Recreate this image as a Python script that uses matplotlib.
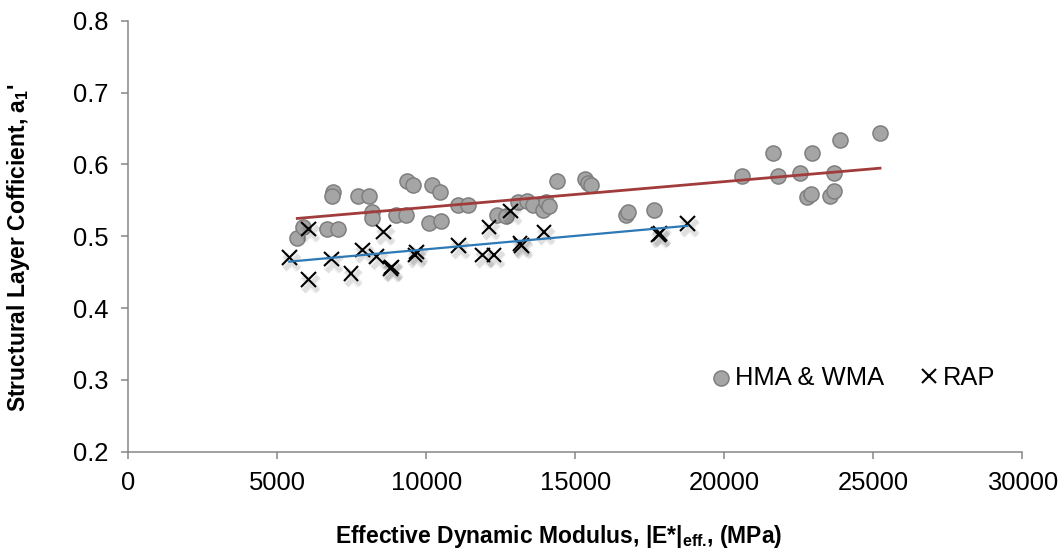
import numpy as np
import matplotlib
matplotlib.use("Agg")
import matplotlib.pyplot as plt
import matplotlib.patheffects as pe

plt.rcParams["font.family"] = ["Liberation Sans", "DejaVu Sans"]
plt.rcParams["mathtext.fontset"] = "custom"
plt.rcParams["mathtext.rm"] = "Liberation Sans"
plt.rcParams["mathtext.bf"] = "Liberation Sans:bold"
plt.rcParams["mathtext.default"] = "bf"

# HMA & WMA mixtures: effective dynamic modulus (MPa) vs layer coefficient
hma_modulus = [5671, 5852, 6879, 6836, 7718, 8077, 8168, 8188, 6678, 7027,
               8983, 9309, 9342, 9564, 10181, 10460, 10091, 10493, 11074, 11409,
               12383, 12664, 13087, 13369, 13591, 13926, 14017, 14128, 14376, 15325,
               15436, 15517, 16702, 16779, 17641, 20604, 21644, 21812, 22540, 22933,
               22785, 22899, 23681, 23547, 23681, 23882, 25225]
hma_coef = [0.498, 0.513, 0.562, 0.556, 0.556, 0.556, 0.534, 0.525, 0.510, 0.510,
            0.529, 0.529, 0.577, 0.571, 0.571, 0.562, 0.518, 0.521, 0.543, 0.543,
            0.529, 0.528, 0.547, 0.549, 0.543, 0.537, 0.547, 0.542, 0.577, 0.579,
            0.574, 0.571, 0.529, 0.534, 0.536, 0.584, 0.616, 0.584, 0.588, 0.616,
            0.555, 0.559, 0.588, 0.556, 0.563, 0.634, 0.643]

# RAP mixtures
rap_modulus = [5403, 6040, 6040, 6825, 7473, 7866, 8336, 8557, 8839, 8805,
               9621, 9678, 11074, 12104, 11879, 12272, 12832, 13201, 13144, 13950,
               17785, 17842, 18758]
rap_coef = [0.470, 0.440, 0.510, 0.468, 0.448, 0.481, 0.472, 0.506, 0.457, 0.455,
            0.474, 0.478, 0.487, 0.513, 0.474, 0.474, 0.535, 0.487, 0.490, 0.506,
            0.502, 0.504, 0.518]

x_ticks = [0, 5000, 10000, 15000, 20000, 25000, 30000]
y_ticks = [0.2, 0.3, 0.4, 0.5, 0.6, 0.7, 0.8]

W, H = 1064, 557
fig = plt.figure(figsize=(W / 100, H / 100), dpi=100)
ax = fig.add_axes([128.3 / W, 1 - 451.7 / H, (1022.3 - 128.3) / W, (451.7 - 20.7) / H])

axis_grey = "#868686"
tick_fs = 18.4
label_fs = 16.5

ax.scatter(hma_modulus, hma_coef, s=118, facecolor="#A5A5A5", edgecolor="#7F7F7F",
           linewidth=1.1, zorder=2, label="HMA & WMA")

shadow = [pe.SimpleLineShadow(offset=(1.5, -3), shadow_color="k", alpha=0.05, linewidth=6),
          pe.SimpleLineShadow(offset=(1.5, -3), shadow_color="k", alpha=0.08, linewidth=3.5),
          pe.Normal()]
ax.plot(rap_modulus, rap_coef, linestyle="none", marker="x", markersize=10.5,
        markeredgewidth=1.5, color="black", zorder=3, label="RAP",
        path_effects=shadow)

# linear trend lines across each data range
for xs, ys, col, lw in [(hma_modulus, hma_coef, "#A23B3B", 2.0),
                        (rap_modulus, rap_coef, "#2C79B6", 1.6)]:
    k, b = np.polyfit(xs, ys, 1)
    xr = np.array([min(xs), max(xs)])
    ax.plot(xr, k * xr + b, color=col, linewidth=lw, zorder=4)

ax.set_xlim(0, 30000)
ax.set_ylim(0.2, 0.8)
ax.set_xticks(x_ticks)
ax.set_yticks(y_ticks)
ax.set_xticklabels([str(v) for v in x_ticks])
ax.set_yticklabels([f"{v:.1f}" for v in y_ticks])

for side in ("top", "right"):
    ax.spines[side].set_visible(False)
for side in ("left", "bottom"):
    ax.spines[side].set_color(axis_grey)
    ax.spines[side].set_linewidth(1.1)
ax.tick_params(axis="both", direction="out", length=5, width=1.1, color=axis_grey,
               labelsize=tick_fs, labelcolor="black")
ax.tick_params(axis="y", pad=9)
ax.tick_params(axis="x", pad=9)

fig.text(559 / W, 1 - 537 / H, r"Effective Dynamic Modulus, |E*|$_{eff.}\!$, (MPa)",
         ha="center", va="center", fontsize=label_fs, fontweight="bold")
fig.text(19 / W, 1 - 248 / H, r"Structural Layer Cofficient, a$_1$'",
         ha="center", va="center", rotation=90, rotation_mode="anchor",
         fontsize=label_fs, fontweight="bold")

leg = ax.legend(loc="center", bbox_to_anchor=(852 / W, 1 - 378 / H),
                bbox_transform=fig.transFigure, ncol=2, frameon=False, fontsize=tick_fs,
                handletextpad=0.05, columnspacing=1.25, handlelength=1.0, borderpad=0)
for h in leg.legend_handles:
    h.set_path_effects([])

fig.savefig("out.png", dpi=100)
